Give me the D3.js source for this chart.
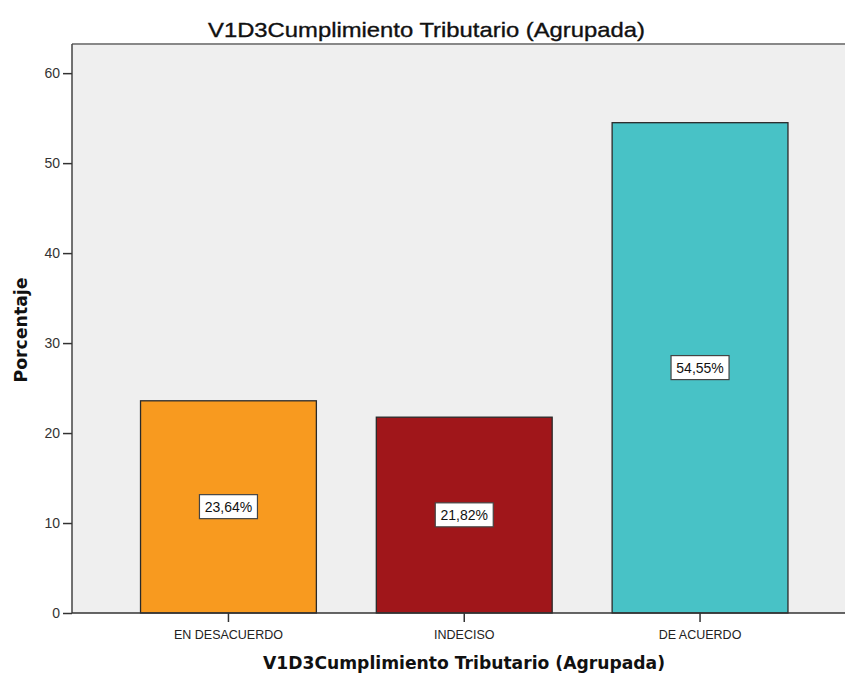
<!DOCTYPE html>
<html><head><meta charset="utf-8">
<script src="https://cdn.jsdelivr.net/npm/d3@7"></script>
<style>body{margin:0;background:#fff}svg{display:block}</style>
</head><body>
<svg id="c" width="845" height="675"></svg>
<script>
const categories = ["EN DESACUERDO", "INDECISO", "DE ACUERDO"];
const values = [23.64, 21.82, 54.55];
const labels = ["23,64%", "21,82%", "54,55%"];
const colors = ["#F89A1F", "#A0161A", "#48C2C6"];
const yTicks = [0, 10, 20, 30, 40, 50, 60];
const title = "V1D3Cumplimiento Tributario (Agrupada)";
const xTitle = "V1D3Cumplimiento Tributario (Agrupada)";
const yTitle = "Porcentaje";

const svg = d3.select("#c");
const L = 72, R = 856.5, T = 44, B = 613;
const x = d3.scaleBand().domain(categories).range([L, R]).paddingInner(0.25).paddingOuter(0.2885);
const y = d3.scaleLinear().domain([0, 63.24]).range([B, T]);

svg.append("rect").attr("x", L).attr("y", T).attr("width", R - L).attr("height", B - T).attr("fill", "#EFEFEF");
svg.append("line").attr("x1", L).attr("x2", R).attr("y1", T).attr("y2", T).attr("stroke", "#888").attr("stroke-width", 2);

svg.selectAll("rect.bar").data(values).enter().append("rect").attr("class", "bar")
  .attr("x", (d, i) => x(categories[i]) + 0.5).attr("y", d => y(d) + 0.5)
  .attr("width", x.bandwidth() - 1).attr("height", d => B - y(d) - 0.5)
  .attr("fill", (d, i) => colors[i]).attr("stroke", "#2a2a2a").attr("stroke-width", 1.3);

const lg = svg.selectAll("g.lab").data(values).enter().append("g").attr("class", "lab")
  .attr("transform", (d, i) => `translate(${x(categories[i]) + x.bandwidth() / 2},${y(d / 2)})`);
lg.append("rect").attr("x", -29).attr("y", -12).attr("width", 58).attr("height", 24)
  .attr("fill", "#fff").attr("stroke", "#444").attr("stroke-width", 1.2);
lg.append("text").attr("text-anchor", "middle").attr("y", 5).attr("font-family", "Liberation Sans, Arial, sans-serif")
  .attr("font-size", 14).attr("fill", "#111").text((d, i) => labels[i]);

// y axis
const ya = svg.append("g").attr("transform", `translate(${L},0)`)
  .call(d3.axisLeft(y).tickValues(yTicks).tickSize(9).tickPadding(3).tickFormat(d3.format("d")));
ya.select(".domain").attr("stroke", "#444").attr("stroke-width", 1.5).attr("d", `M0,${T}V${B}`);
ya.selectAll(".tick line").attr("stroke", "#333").attr("stroke-width", 1.5);
ya.selectAll(".tick text").attr("font-family", "Liberation Sans, Arial, sans-serif").attr("font-size", 14).attr("fill", "#333");

// x axis
const xa = svg.append("g").attr("transform", `translate(0,${B})`).call(d3.axisBottom(x).tickSize(9).tickPadding(8));
xa.select(".domain").attr("stroke", "#333").attr("stroke-width", 1.5).attr("d", `M${L},0H${R}`);
xa.selectAll(".tick line").attr("stroke", "#333").attr("stroke-width", 1.5);
xa.selectAll(".tick text").attr("font-family", "Liberation Sans, Arial, sans-serif").attr("font-size", 12.5).attr("fill", "#222");

svg.append("text").attr("x", 426.5).attr("y", 37).attr("text-anchor", "middle")
  .attr("font-family", "Liberation Sans, Arial, sans-serif").attr("font-size", 21)
  .attr("textLength", 437).attr("lengthAdjust", "spacingAndGlyphs")
  .attr("fill", "#111").attr("stroke", "#111").attr("stroke-width", 0.35).text(title);
svg.append("text").attr("x", 464).attr("y", 669).attr("text-anchor", "middle")
  .attr("font-family", "DejaVu Sans, sans-serif").attr("font-weight", "bold").attr("font-size", 17)
  .attr("textLength", 402).attr("lengthAdjust", "spacingAndGlyphs").attr("fill", "#111").text(xTitle);
svg.append("text").attr("transform", "translate(27,330) rotate(-90)").attr("text-anchor", "middle")
  .attr("font-family", "DejaVu Sans, sans-serif").attr("font-weight", "bold").attr("font-size", 17.5)
  .attr("textLength", 105).attr("lengthAdjust", "spacingAndGlyphs").attr("fill", "#111").text(yTitle);
</script>
</body></html>
